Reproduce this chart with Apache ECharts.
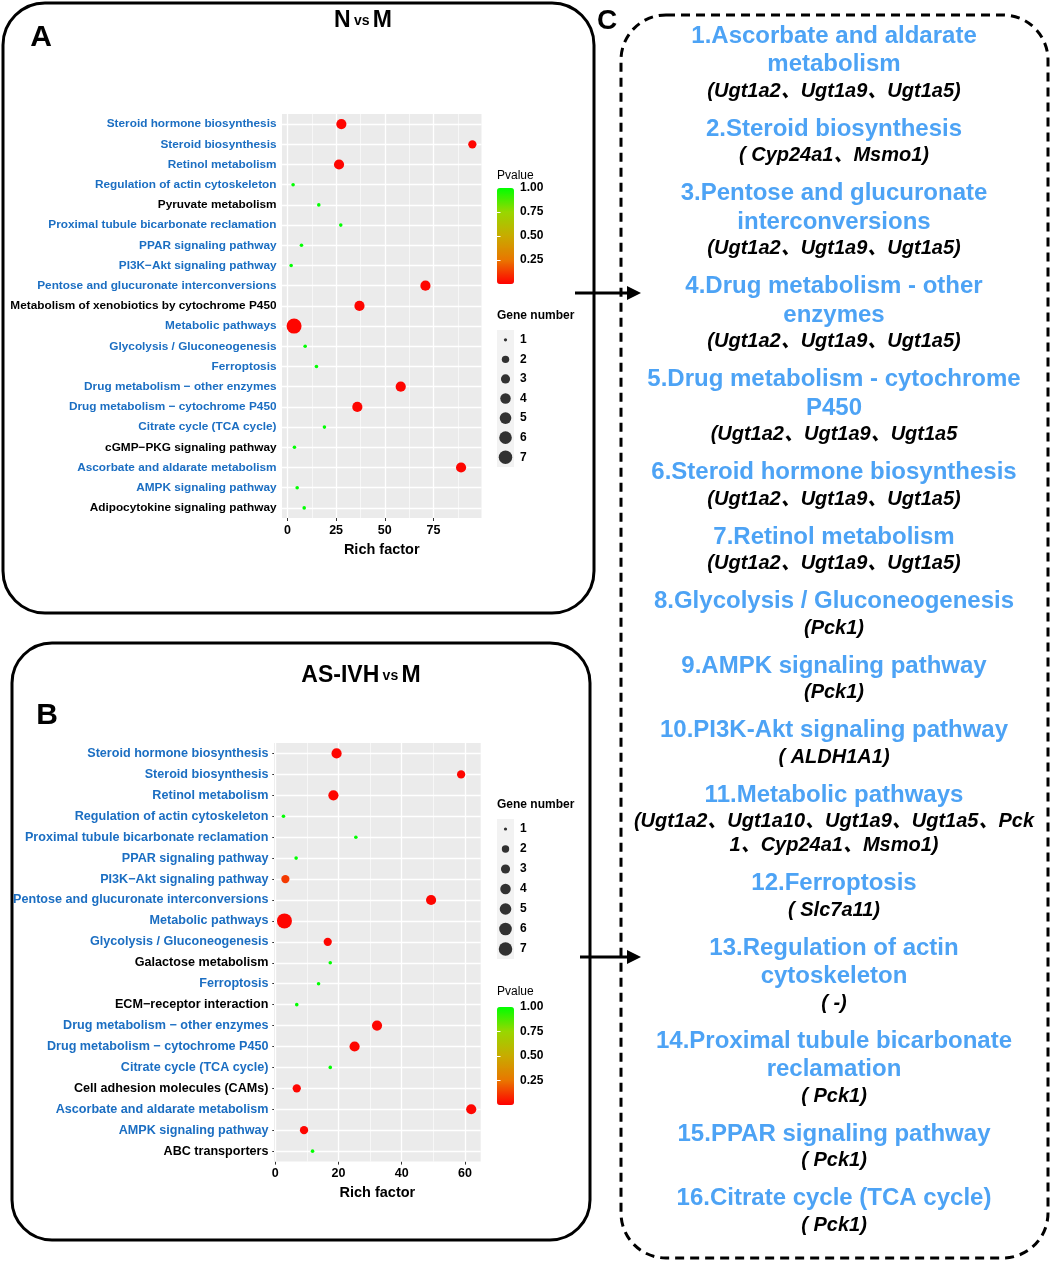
<!DOCTYPE html>
<html><head><meta charset="utf-8">
<script src="https://cdn.jsdelivr.net/npm/echarts@6/dist/echarts.min.js"></script>
<style>html,body{margin:0;padding:0;background:#fff}#c{width:1052px;height:1269px}</style>
</head><body><div id="c"></div>
<script>
// ---------- Panel A (N vs M) ----------
const catsA = ['Steroid hormone biosynthesis','Steroid biosynthesis','Retinol metabolism','Regulation of actin cytoskeleton','Pyruvate metabolism','Proximal tubule bicarbonate reclamation','PPAR signaling pathway','PI3K\u2212Akt signaling pathway','Pentose and glucuronate interconversions','Metabolism of xenobiotics by cytochrome P450','Metabolic pathways','Glycolysis / Gluconeogenesis','Ferroptosis','Drug metabolism \u2212 other enzymes','Drug metabolism \u2212 cytochrome P450','Citrate cycle (TCA cycle)','cGMP\u2212PKG signaling pathway','Ascorbate and aldarate metabolism','AMPK signaling pathway','Adipocytokine signaling pathway'];
const richA  = [27.7, 95.0, 26.5, 2.9, 16.1, 27.4, 7.2, 1.9, 70.9, 37.0, 3.4, 9.1, 14.9, 58.2, 35.9, 19.0, 3.6, 89.2, 5.0, 8.6];
const pvalA  = [0.01, 0.01, 0.01, 1, 1, 1, 1, 1, 0.01, 0.01, 0.01, 1, 1, 0.01, 0.01, 1, 1, 0.01, 1, 1];
const genesA = [3, 2, 3, 1, 1, 1, 1, 1, 3, 3, 7, 1, 1, 3, 3, 1, 1, 3, 1, 1];
const xTicksA = [0, 25, 50, 75];
const xMinorA = [12.5, 37.5, 62.5, 87.5];

// ---------- Panel B (AS-IVH vs M) ----------
const catsB = ['Steroid hormone biosynthesis','Steroid biosynthesis','Retinol metabolism','Regulation of actin cytoskeleton','Proximal tubule bicarbonate reclamation','PPAR signaling pathway','PI3K\u2212Akt signaling pathway','Pentose and glucuronate interconversions','Metabolic pathways','Glycolysis / Gluconeogenesis','Galactose metabolism','Ferroptosis','ECM\u2212receptor interaction','Drug metabolism \u2212 other enzymes','Drug metabolism \u2212 cytochrome P450','Citrate cycle (TCA cycle)','Cell adhesion molecules (CAMs)','Ascorbate and aldarate metabolism','AMPK signaling pathway','ABC transporters'];
const richB  = [19.4, 58.8, 18.4, 2.6, 25.5, 6.6, 3.2, 49.3, 2.9, 16.6, 17.4, 13.7, 6.8, 32.2, 25.1, 17.4, 6.8, 62.0, 9.1, 11.8];
const pvalB  = [0.01, 0.01, 0.01, 1, 1, 1, 0.12, 0.01, 0.01, 0.01, 1, 1, 1, 0.01, 0.01, 1, 0.01, 0.01, 0.01, 1];
const genesB = [3, 2, 3, 1, 1, 1, 2, 3, 7, 2, 1, 1, 1, 3, 3, 1, 2, 3, 2, 1];
const xTicksB = [0, 20, 40, 60];
const xMinorB = [10, 30, 50];

// ---------- legends ----------
const pTicks = [0.25, 0.5, 0.75, 1];
const pInnerTicks = [0.25, 0.5, 0.75];
const geneLegend = [1, 2, 3, 4, 5, 6, 7];

// ---------- Panel C ----------
const cTitles = [
 ['1.Ascorbate and aldarate','metabolism'],
 ['2.Steroid biosynthesis'],
 ['3.Pentose and glucuronate','interconversions'],
 ['4.Drug metabolism - other','enzymes'],
 ['5.Drug metabolism - cytochrome','P450'],
 ['6.Steroid hormone biosynthesis'],
 ['7.Retinol metabolism'],
 ['8.Glycolysis / Gluconeogenesis'],
 ['9.AMPK signaling pathway'],
 ['10.PI3K-Akt signaling pathway'],
 ['11.Metabolic pathways'],
 ['12.Ferroptosis'],
 ['13.Regulation of actin','cytoskeleton'],
 ['14.Proximal tubule bicarbonate','reclamation'],
 ['15.PPAR signaling pathway'],
 ['16.Citrate cycle (TCA cycle)']
];
const cGenes = [
 ['(Ugt1a2\u3001Ugt1a9\u3001Ugt1a5)'],
 ['( Cyp24a1\u3001Msmo1)'],
 ['(Ugt1a2\u3001Ugt1a9\u3001Ugt1a5)'],
 ['(Ugt1a2\u3001Ugt1a9\u3001Ugt1a5)'],
 ['(Ugt1a2\u3001Ugt1a9\u3001Ugt1a5'],
 ['(Ugt1a2\u3001Ugt1a9\u3001Ugt1a5)'],
 ['(Ugt1a2\u3001Ugt1a9\u3001Ugt1a5)'],
 ['(Pck1)'],
 ['(Pck1)'],
 ['( ALDH1A1)'],
 ['(Ugt1a2\u3001Ugt1a10\u3001Ugt1a9\u3001Ugt1a5\u3001Pck','1\u3001Cyp24a1\u3001Msmo1)'],
 ['( Slc7a11)'],
 ['( -)'],
 ['( Pck1)'],
 ['( Pck1)'],
 ['( Pck1)']
];

// ---------- styling ----------
const FONT = "'Liberation Sans', Arial, Helvetica, 'Noto Sans CJK SC', sans-serif";
const BLUE_LABEL = '#1B6EC2';
const BLUE_C = '#4DA3F5';
const PCOLORS = ['#FF0000', '#E97600', '#C8AB00', '#98D700', '#00FF00'];
function diam(n) { return 3.6 + 11.4 * Math.sqrt((n - 1) / 6); }
function norm(s) { return s.replace(/\u2212/g, '-'); }
const highlighted = new Set(cTitles.map(t => norm(t.join(' ').replace(/^\d+\./, ''))));

const grid = [], xAxis = [], yAxis = [], series = [], visualMap = [];

function addPanel(cfg) {
  const gMain = grid.length;
  grid.push({ left: cfg.left, top: cfg.top, width: cfg.width, height: cfg.height, show: true, backgroundColor: '#EBEBEB', borderWidth: 0 });
  const xi = xAxis.length, yi = yAxis.length;
  xAxis.push({
    gridIndex: gMain, type: 'value', min: cfg.xmin, max: cfg.xmax,
    axisLine: { show: false }, splitLine: { show: false },
    axisTick: { show: true, customValues: cfg.xTicks, length: 3, lineStyle: { color: '#333' } },
    axisLabel: { customValues: cfg.xTicks, color: '#000', fontWeight: 'bold', fontSize: 12.5, fontFamily: FONT, margin: 6 },
    name: 'Rich factor', nameLocation: 'middle', nameGap: cfg.nameGap,
    nameTextStyle: { color: '#000', fontWeight: 'bold', fontSize: 14.5, fontFamily: FONT }
  });
  yAxis.push({
    gridIndex: gMain, type: 'category', data: cfg.cats, inverse: true,
    axisLine: { show: false }, splitLine: { show: false },
    axisTick: { show: true, alignWithLabel: true, length: 3, lineStyle: { color: '#333' } },
    axisLabel: { interval: 0, margin: 5.5, fontSize: cfg.labelSize, fontWeight: 'bold', fontFamily: FONT,
      color: (v) => highlighted.has(norm(v)) ? BLUE_LABEL : '#000' }
  });
  // white grid lines
  const ml = [];
  cfg.xTicks.forEach(v => ml.push({ xAxis: v, lineStyle: { width: 1.3 } }));
  cfg.xMinor.forEach(v => ml.push({ xAxis: v, lineStyle: { width: 0.6 } }));
  cfg.cats.forEach(c => ml.push({ yAxis: c, lineStyle: { width: 1.3 } }));
  series.push({
    type: 'scatter', xAxisIndex: xi, yAxisIndex: yi, data: [], z: 1, silent: true,
    markLine: { silent: true, symbol: ['none', 'none'], label: { show: false }, animation: false,
      lineStyle: { color: '#FFFFFF', type: 'solid' }, data: ml }
  });
  const mainIdx = series.length;
  series.push({
    type: 'scatter', xAxisIndex: xi, yAxisIndex: yi, z: 5, silent: true,
    encode: { x: 0, y: 1 },
    data: cfg.cats.map((c, i) => [cfg.rich[i], c, cfg.pval[i], cfg.genes[i]]),
    symbolSize: (v) => diam(v[3]),
    itemStyle: { opacity: 1 }
  });
  visualMap.push({
    type: 'continuous', seriesIndex: mainIdx, dimension: 2, min: 0, max: 1,
    inRange: { color: PCOLORS }, orient: 'vertical', left: 497, top: cfg.pTop,
    itemWidth: 17, itemHeight: cfg.pHeight, calculable: false, padding: 0, hoverLink: false
  });
  // colorbar labels
  const gP = grid.length;
  grid.push({ left: 497, top: cfg.pTop, width: 17, height: cfg.pHeight, show: false });
  xAxis.push({ gridIndex: gP, type: 'value', show: false });
  yAxis.push({
    gridIndex: gP, type: 'value', min: 0, max: 1, position: 'right', z: 10,
    axisLine: { show: false }, splitLine: { show: false },
    axisTick: { show: true, inside: true, customValues: pInnerTicks, length: 3.5, lineStyle: { color: '#fff', width: 1 } },
    axisLabel: { customValues: pTicks, formatter: v => v.toFixed(2), color: '#000', fontWeight: 'bold', fontSize: 12, fontFamily: FONT, margin: 6 }
  });
  yAxis.push({
    gridIndex: gP, type: 'value', min: 0, max: 1, position: 'left', z: 10,
    axisLine: { show: false }, splitLine: { show: false },
    axisTick: { show: true, inside: true, customValues: pInnerTicks, length: 3.5, lineStyle: { color: '#fff', width: 1 } },
    axisLabel: { show: false }
  });
  // gene number legend
  const gS = grid.length;
  grid.push({ left: 497, top: cfg.sTop, width: 17, height: cfg.sHeight, show: true, backgroundColor: '#F2F2F2', borderWidth: 0 });
  const sxi = xAxis.length, syi = yAxis.length;
  xAxis.push({ gridIndex: gS, type: 'value', min: 0, max: 1, show: false });
  yAxis.push({
    gridIndex: gS, type: 'category', data: geneLegend.map(String), inverse: true, position: 'right',
    axisLine: { show: false }, axisTick: { show: false }, splitLine: { show: false },
    axisLabel: { interval: 0, color: '#000', fontWeight: 'bold', fontSize: 12, fontFamily: FONT, margin: 6 }
  });
  series.push({
    type: 'scatter', xAxisIndex: sxi, yAxisIndex: syi, silent: true, z: 5,
    data: geneLegend.map(n => [0.5, String(n), n]),
    symbolSize: (v) => diam(v[2]) * 0.9, itemStyle: { color: '#000' }
  });
}

addPanel({ cats: catsA, rich: richA, pval: pvalA, genes: genesA, xTicks: xTicksA, xMinor: xMinorA,
  left: 282, top: 114, width: 199.5, height: 404, xmin: -2.8, xmax: 99.7, labelSize: 11.8, nameGap: 25,
  pTop: 188, pHeight: 96, sTop: 330, sHeight: 137 });
addPanel({ cats: catsB, rich: richB, pval: pvalB, genes: genesB, xTicks: xTicksB, xMinor: xMinorB,
  left: 274, top: 743, width: 206.7, height: 418.6, xmin: -0.4, xmax: 65, labelSize: 12.6, nameGap: 24.5,
  pTop: 1007, pHeight: 98, sTop: 819, sHeight: 140 });

// ---------- graphics: frames, titles, arrows, panel C ----------
const graphic = [];
graphic.push({ type: 'rect', z: 0, shape: { x: 3, y: 3, width: 591, height: 610, r: 42 }, style: { fill: 'none', stroke: '#000', lineWidth: 3 } });
graphic.push({ type: 'rect', z: 0, shape: { x: 12, y: 643, width: 578, height: 597, r: 40 }, style: { fill: 'none', stroke: '#000', lineWidth: 3 } });
graphic.push({ type: 'rect', z: 0, shape: { x: 621, y: 15, width: 427, height: 1243, r: 45 }, style: { fill: 'none', stroke: '#000', lineWidth: 3, lineDash: [9, 6] } });
// arrows
[[575, 293], [580, 957]].forEach(([x0, y]) => {
  graphic.push({ type: 'line', z: 20, shape: { x1: x0, y1: y, x2: 630, y2: y }, style: { stroke: '#000', lineWidth: 3 } });
  graphic.push({ type: 'polygon', z: 20, shape: { points: [[641, y], [627, y - 7], [627, y + 7]] }, style: { fill: '#000' } });
});
// panel letters
graphic.push({ type: 'text', x: 41, y: 38, style: { text: 'A', font: 'bold 30px ' + FONT, fill: '#000', align: 'center', verticalAlign: 'middle' } });
graphic.push({ type: 'text', x: 47, y: 716, style: { text: 'B', font: 'bold 30px ' + FONT, fill: '#000', align: 'center', verticalAlign: 'middle' } });
graphic.push({ type: 'text', x: 607, y: 21, style: { text: 'C', font: 'bold 28px ' + FONT, fill: '#000', align: 'center', verticalAlign: 'middle' } });
// panel headers
const rich = { b: { font: 'bold 23px ' + FONT, fill: '#000' }, s: { font: 'bold 14px ' + FONT, fill: '#000' } };
graphic.push({ type: 'text', x: 363, y: 21, style: { text: '{b|N} {s|vs} {b|M}', rich, align: 'center', verticalAlign: 'middle' } });
graphic.push({ type: 'text', x: 361, y: 676, style: { text: '{b|AS-IVH} {s|vs} {b|M}', rich, align: 'center', verticalAlign: 'middle' } });
// legend titles
[[176, 316], [992, 805]].forEach(([pY, gY]) => {
  graphic.push({ type: 'text', x: 497, y: pY, style: { text: 'Pvalue', font: '12px ' + FONT, fill: '#000', align: 'left', verticalAlign: 'middle' } });
  graphic.push({ type: 'text', x: 497, y: gY, style: { text: 'Gene number', font: 'bold 12px ' + FONT, fill: '#000', align: 'left', verticalAlign: 'middle' } });
});
// panel C list
let y = 36;
const CX = 834;
cTitles.forEach((lines, i) => {
  lines.forEach((t, j) => {
    if (j > 0) y += 28.5;
    graphic.push({ type: 'text', x: CX, y: y, style: { text: t, font: 'bold 24px ' + FONT, fill: BLUE_C, align: 'center', verticalAlign: 'middle' } });
  });
  y += 26.5;
  cGenes[i].forEach((t, j) => {
    if (j > 0) y += 24;
    graphic.push({ type: 'text', x: CX, y: y, style: { text: t, font: 'italic bold 20px ' + FONT, fill: '#000', align: 'center', verticalAlign: 'middle' } });
  });
  y += 38;
});

const chart = echarts.init(document.getElementById('c'), null, { renderer: 'canvas' });
chart.setOption({
  animation: false,
  backgroundColor: '#fff',
  grid, xAxis, yAxis, series, visualMap, graphic
});
</script>
</body></html>
